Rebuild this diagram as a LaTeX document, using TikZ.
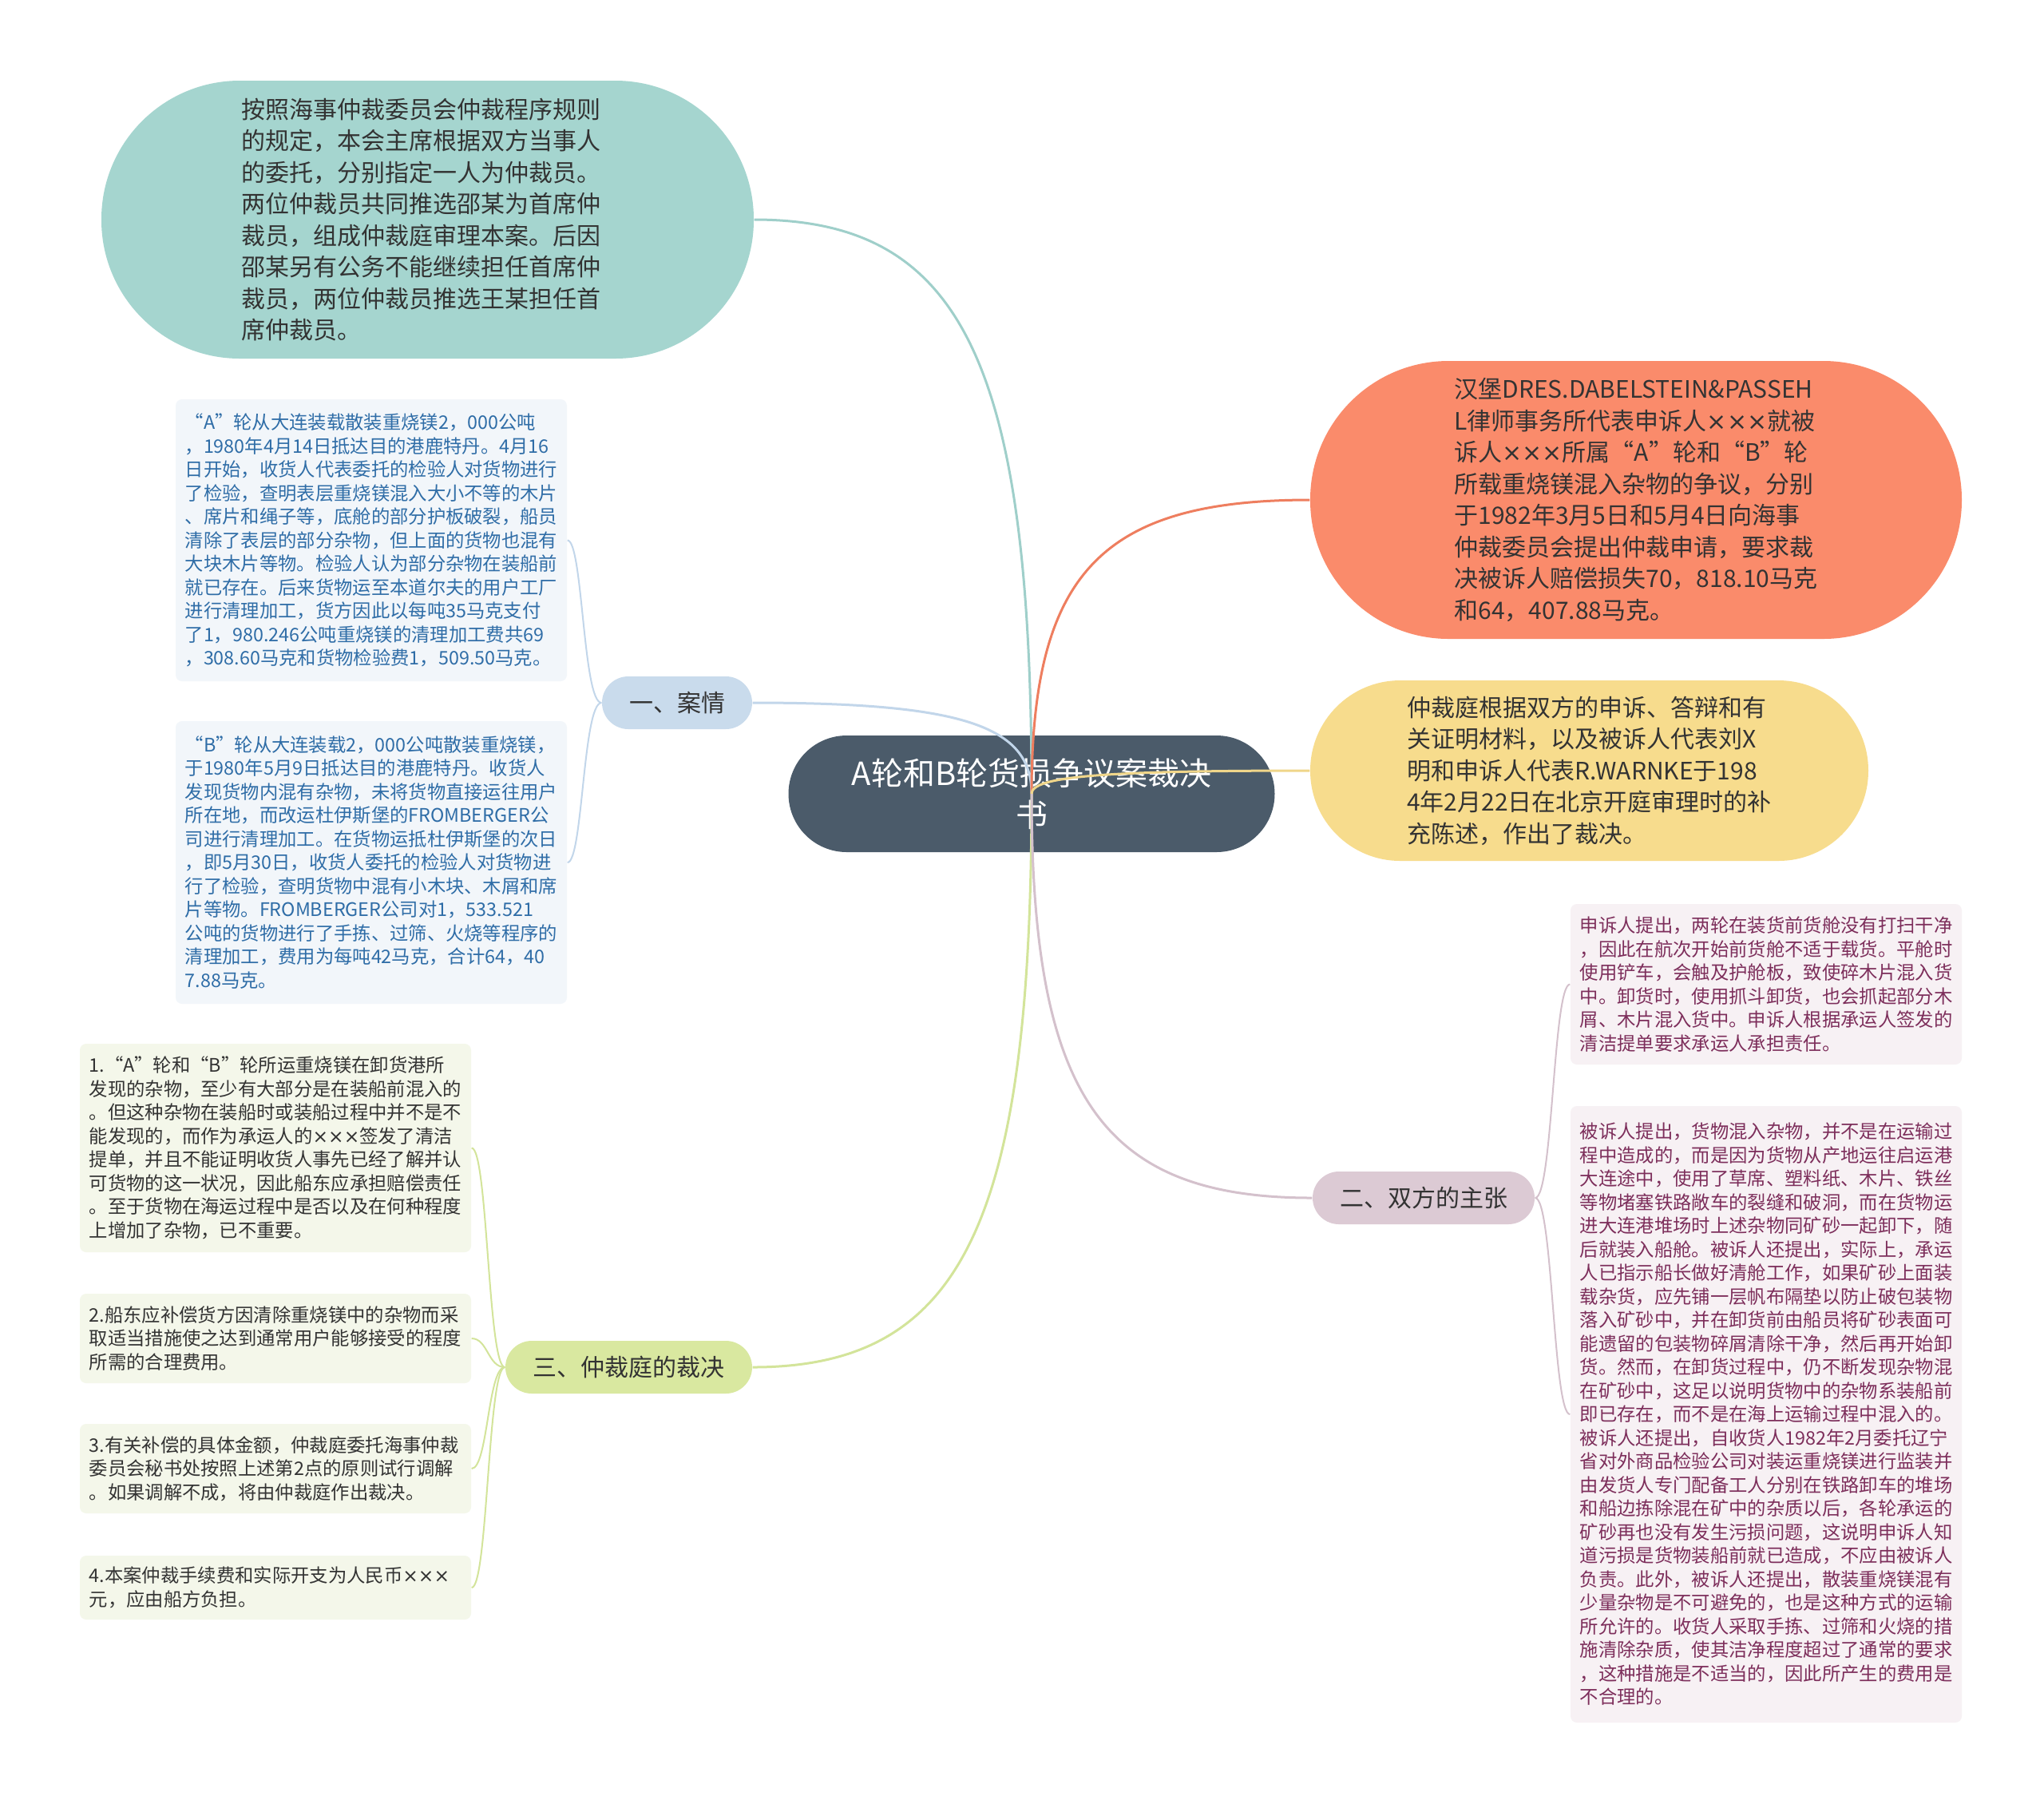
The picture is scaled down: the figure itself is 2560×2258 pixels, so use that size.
\documentclass[tikz,border=0pt]{standalone}
\usepackage{fontspec}
\setmainfont{Noto Sans CJK SC}
\newfontfamily\crossfont{DejaVu Sans}
\newcommand\xxx{{\crossfont ×××}}
\usetikzlibrary{calc}

\definecolor{centerfill}{HTML}{4B5B6A}
\definecolor{tealfill}{HTML}{A5D5CF}
\definecolor{tealline}{HTML}{9FCFCA}
\definecolor{redfill}{HTML}{FA8B6B}
\definecolor{redline}{HTML}{EE7E5F}
\definecolor{yelfill}{HTML}{F7DC8D}
\definecolor{yelline}{HTML}{F0D68A}
\definecolor{bluefill}{HTML}{C9DBEC}
\definecolor{blueline}{HTML}{C2D6EA}
\definecolor{greenfill}{HTML}{D9E8A0}
\definecolor{greenline}{HTML}{D3E49A}
\definecolor{mauvefill}{HTML}{DCCAD4}
\definecolor{mauveline}{HTML}{D4C1CC}
\definecolor{boxblue}{HTML}{F2F6FA}
\definecolor{boxgreen}{HTML}{F4F7EA}
\definecolor{boxpink}{HTML}{F7F1F4}
\definecolor{txtblue}{HTML}{2F6DA7}
\definecolor{txtmaroon}{HTML}{7D2E5B}
\definecolor{txtdark}{HTML}{333333}

\tikzset{
  bubble/.style={inner sep=0pt, align=left, text=txtdark, font=\fontsize{9pt}{11.85pt}\selectfont},
  branch/.style={inner sep=0pt, align=center, text=txtdark, font=\fontsize{9pt}{11pt}\selectfont, minimum height=19.8pt, rounded corners=9.9pt},
  leaf/.style={inner sep=0pt, align=left, text width=140pt, rounded corners=2.4pt, minimum width=147pt, font=\fontsize{7pt}{8.85pt}\selectfont},
  conn/.style={line width=0.9pt},
  brk/.style={line width=0.6pt},
}

\begin{document}
\begin{tikzpicture}[x=0.3pt, y=-0.3pt]
\useasboundingbox[fill=white] (0,0) rectangle (2560,2258);

% root
\node[fill=centerfill, text=white, minimum width=182.7pt, minimum height=43.8pt, rounded corners=21.9pt, font=\fontsize{12pt}{15.6pt}\selectfont, align=center, inner sep=0pt] (root) at (1292,994) {A轮和B轮货损争议案裁决\\书};

% big bubbles
\node[bubble, fill=tealfill, minimum width=245.1pt, minimum height=104.4pt, rounded corners=52pt] (t) at (535.5,275) {按照海事仲裁委员会仲裁程序规则\rule{4.8pt}{0pt}\\的规定，本会主席根据双方当事人\\的委托，分别指定一人为仲裁员。\\两位仲裁员共同推选邵某为首席仲\\裁员，组成仲裁庭审理本案。后因\\邵某另有公务不能继续担任首席仲\\裁员，两位仲裁员推选王某担任首\\席仲裁员。};

\node[bubble, fill=redfill, minimum width=244.8pt, minimum height=104.4pt, rounded corners=52pt] (r) at (2049,626) {汉堡DRES.DABELSTEIN\&PASSEH\\L律师事务所代表申诉人\xxx 就被\\诉人\xxx 所属“A”轮和“B”轮\\所载重烧镁混入杂物的争议，分别\\于1982年3月5日和5月4日向海事\\仲裁委员会提出仲裁申请，要求裁\\决被诉人赔偿损失70，818.10马克\\和64，407.88马克。};

\node[bubble, fill=yelfill, minimum width=209.7pt, minimum height=67.8pt, rounded corners=33.8pt] (y) at (1990.5,965) {仲裁庭根据双方的申诉、答辩和有\\关证明材料，以及被诉人代表刘X\\明和申诉人代表R.WARNKE于198\\4年2月22日在北京开庭审理时的补\\充陈述，作出了裁决。};

% branch nodes
\node[branch, fill=bluefill, minimum width=56.4pt] (b1) at (848,880) {一、案情};
\node[branch, fill=greenfill, minimum width=92.7pt] (b3) at (787.5,1712) {三、仲裁庭的裁决};
\node[branch, fill=mauvefill, minimum width=83.4pt] (b2) at (1783,1500) {二、双方的主张};

% leaves of 案情
\node[leaf, fill=boxblue, text=txtblue, minimum height=105.9pt] (a1) at (465,676.5) {“A”轮从大连装载散装重烧镁2，000公吨\\，1980年4月14日抵达目的港鹿特丹。4月16\\日开始，收货人代表委托的检验人对货物进行\\了检验，查明表层重烧镁混入大小不等的木片\\、席片和绳子等，底舱的部分护板破裂，船员\\清除了表层的部分杂物，但上面的货物也混有\\大块木片等物。检验人认为部分杂物在装船前\\就已存在。后来货物运至本道尔夫的用户工厂\\进行清理加工，货方因此以每吨35马克支付\\了1，980.246公吨重烧镁的清理加工费共69\\，308.60马克和货物检验费1，509.50马克。};

\node[leaf, fill=boxblue, text=txtblue, minimum height=106.2pt] (a2) at (465,1080) {“B”轮从大连装载2，000公吨散装重烧镁，\\于1980年5月9日抵达目的港鹿特丹。收货人\\发现货物内混有杂物，未将货物直接运往用户\\所在地，而改运杜伊斯堡的FROMBERGER公\\司进行清理加工。在货物运抵杜伊斯堡的次日\\，即5月30日，收货人委托的检验人对货物进\\行了检验，查明货物中混有小木块、木屑和席\\片等物。FROMBERGER公司对1，533.521\\公吨的货物进行了手拣、过筛、火烧等程序的\\清理加工，费用为每吨42马克，合计64，40\\7.88马克。};

% leaves of 仲裁庭的裁决
\node[leaf, fill=boxgreen, text=txtdark, minimum height=78.3pt] (d1) at (345,1437.5) {1.“A”轮和“B”轮所运重烧镁在卸货港所\\发现的杂物，至少有大部分是在装船前混入的\\。但这种杂物在装船时或装船过程中并不是不\\能发现的，而作为承运人的\xxx 签发了清洁\\提单，并且不能证明收货人事先已经了解并认\\可货物的这一状况，因此船东应承担赔偿责任\\。至于货物在海运过程中是否以及在何种程度\\上增加了杂物，已不重要。};
\node[leaf, fill=boxgreen, text=txtdark, minimum height=33.6pt] (d2) at (345,1676) {2.船东应补偿货方因清除重烧镁中的杂物而采\\取适当措施使之达到通常用户能够接受的程度\\所需的合理费用。};
\node[leaf, fill=boxgreen, text=txtdark, minimum height=33.6pt] (d3) at (345,1839) {3.有关补偿的具体金额，仲裁庭委托海事仲裁\\委员会秘书处按照上述第2点的原则试行调解\\。如果调解不成，将由仲裁庭作出裁决。};
\node[leaf, fill=boxgreen, text=txtdark, minimum height=24pt] (d4) at (345,1988) {4.本案仲裁手续费和实际开支为人民币\xxx\\元，应由船方负担。};

% leaves of 双方的主张
\node[leaf, fill=boxpink, text=txtmaroon, minimum height=60.3pt] (c1) at (2212,1232.5) {申诉人提出，两轮在装货前货舱没有打扫干净\\，因此在航次开始前货舱不适于载货。平舱时\\使用铲车，会触及护舱板，致使碎木片混入货\\中。卸货时，使用抓斗卸货，也会抓起部分木\\屑、木片混入货中。申诉人根据承运人签发的\\清洁提单要求承运人承担责任。};
\node[leaf, fill=boxpink, text=txtmaroon, minimum height=231.6pt] (c2) at (2212,1771) {被诉人提出，货物混入杂物，并不是在运输过\\程中造成的，而是因为货物从产地运往启运港\\大连途中，使用了草席、塑料纸、木片、铁丝\\等物堵塞铁路敞车的裂缝和破洞，而在货物运\\进大连港堆场时上述杂物同矿砂一起卸下，随\\后就装入船舱。被诉人还提出，实际上，承运\\人已指示船长做好清舱工作，如果矿砂上面装\\载杂货，应先铺一层帆布隔垫以防止破包装物\\落入矿砂中，并在卸货前由船员将矿砂表面可\\能遗留的包装物碎屑清除干净，然后再开始卸\\货。然而，在卸货过程中，仍不断发现杂物混\\在矿砂中，这足以说明货物中的杂物系装船前\\即已存在，而不是在海上运输过程中混入的。\\被诉人还提出，自收货人1982年2月委托辽宁\\省对外商品检验公司对装运重烧镁进行监装并\\由发货人专门配备工人分别在铁路卸车的堆场\\和船边拣除混在矿中的杂质以后，各轮承运的\\矿砂再也没有发生污损问题，这说明申诉人知\\道污损是货物装船前就已造成，不应由被诉人\\负责。此外，被诉人还提出，散装重烧镁混有\\少量杂物是不可避免的，也是这种方式的运输\\所允许的。收货人采取手拣、过筛和火烧的措\\施清除杂质，使其洁净程度超过了通常的要求\\，这种措施是不适当的，因此所产生的费用是\\不合理的。};

% main connectors (drawn over the root, as in the reference)
\draw[conn, tealline] (root.center) .. controls (1292,454.75) and (1205,275) .. (t.east);
\draw[conn, blueline] (root.center) .. controls (1292,908.5) and (1204.5,880) .. (b1.east);
\draw[conn, greenline] (root.center) .. controls (1292,1532.5) and (1204.5,1712) .. (b3.east);
\draw[conn, redline] (root.center) .. controls (1292,718) and (1379.25,626) .. (r.west);
\draw[conn, yelline] (root.center) .. controls (1292,972.25) and (1379.25,965) .. (y.west);
\draw[conn, mauveline] (root.center) .. controls (1292,1373.5) and (1380,1500) .. (b2.west);

% sub-branch brackets
\draw[brk, blueline] (b1.west) .. controls (730,880) and (730,676.5) .. (a1.east);
\draw[brk, blueline] (b1.west) .. controls (730,880) and (730,1080) .. (a2.east);
\draw[brk, greenline] (b3.west) .. controls (611,1712) and (611,1437.5) .. (d1.east);
\draw[brk, greenline] (b3.west) .. controls (611,1712) and (611,1676) .. (d2.east);
\draw[brk, greenline] (b3.west) .. controls (611,1712) and (611,1839) .. (d3.east);
\draw[brk, greenline] (b3.west) .. controls (611,1712) and (611,1988) .. (d4.east);
\draw[brk, mauveline] (b2.east) .. controls (1945,1500) and (1945,1232.5) .. (c1.west);
\draw[brk, mauveline] (b2.east) .. controls (1945,1500) and (1945,1771) .. (c2.west);
\end{tikzpicture}
\end{document}
